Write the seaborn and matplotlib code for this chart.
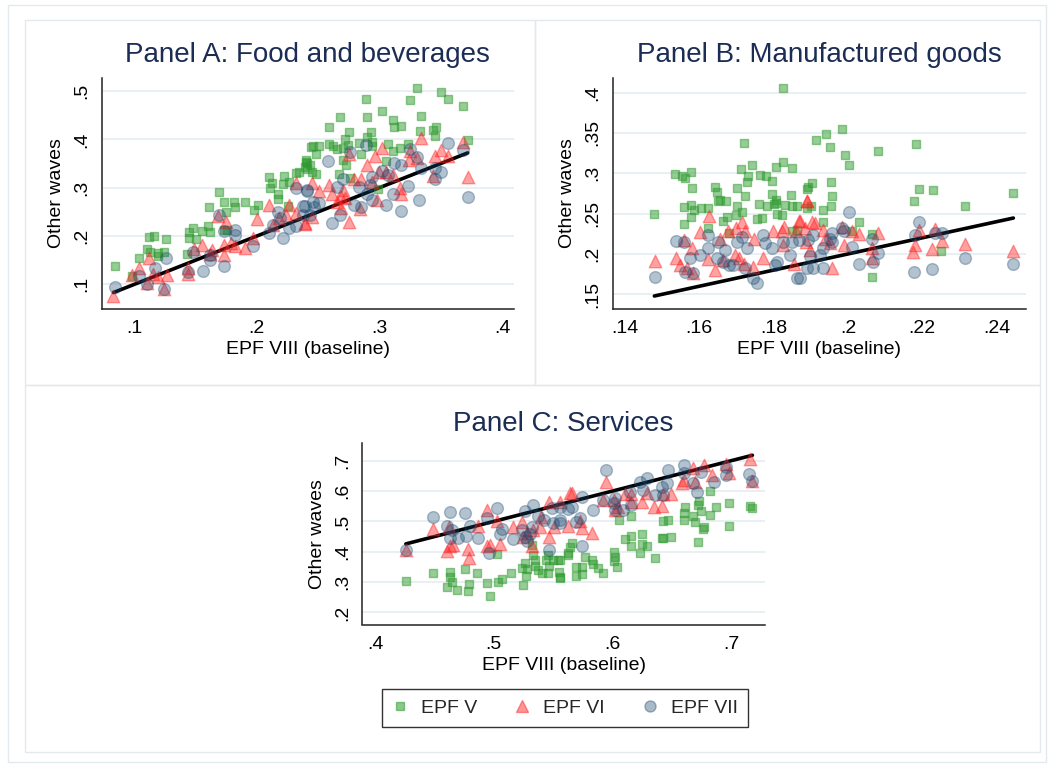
import numpy as np
import pandas as pd
import matplotlib
matplotlib.use('Agg')
import matplotlib.pyplot as plt
import seaborn as sns
from matplotlib.patches import Rectangle
from matplotlib.lines import Line2D

sns.set_theme(style='white')
plt.rcParams['font.family'] = ['Liberation Sans', 'DejaVu Sans']

# ---------------- Panel A: Food and beverages ----------------
A_v5_x = [.084,.098,.104,.110,.112,.116,.113,.119,.119,.124,.126,.145,.145,.148,.150,.143,.155,.160,.162,.161,
          .169,.173,.175,.173,.176,.181,.182,.190,.198,.201,.210,.212,.211,.221,.222,.226,.217,.217,.225,.232,
          .234,.239,.240,.241,.244,
          .331,.350,.356,.368,.325,.289,.302,.268,.290,.311,.312,.318,.334,.259,.275,.272,.293,.290,.294,.294,
          .333,.344,.346,.345,.372,
          .246,.251,.248,.259,.262,.265,.270,.274,.283,.285,.270,.273,.267,.276,.307,.311,.317,.323,.305,.240,
          .243,.241,.248,.245,.299]
A_v5_y = [.139,.117,.154,.174,.197,.201,.167,.165,.158,.167,.193,.208,.195,.217,.194,.163,.210,.221,.209,.261,
          .291,.271,.250,.212,.212,.270,.261,.270,.254,.264,.322,.309,.300,.307,.324,.312,.288,.277,.263,.330,
          .333,.343,.354,.351,.385,
          .507,.497,.484,.470,.481,.484,.459,.447,.446,.441,.426,.428,.448,.426,.415,.401,.415,.405,.395,.386,
          .418,.420,.425,.408,.399,
          .386,.386,.370,.391,.386,.380,.382,.388,.393,.370,.358,.347,.329,.320,.391,.375,.382,.390,.355,.357,
          .347,.339,.328,.333,.297]
A_v6_x = [.083,.098,.104,.112,.110,.115,.119,.124,.127,.144,.144,.149,.155,.162,.163,.168,.173,.175,.173,.179,
          .182,.190,.200,.197,.210,.213,.218,.224,.232,.239,.226,.232,
          .334,.368,.372,.350,.345,.356,.325,.324,.331,.302,.296,.275,.290,.285,.279,.294,.300,.305,.311,.317,
          .318,.344,
          .245,.251,.259,.261,.269,.265,.272,.270,.275,.284,.269,.239,.245,.298]
A_v6_y = [.076,.119,.133,.154,.102,.122,.115,.090,.119,.121,.134,.173,.181,.163,.171,.242,.161,.230,.181,.186,
          .179,.176,.235,.195,.264,.223,.237,.243,.247,.226,.264,.309,
          .402,.394,.323,.377,.366,.366,.375,.357,.361,.383,.365,.370,.348,.319,.319,.312,.333,.333,.326,.299,
          .288,.324,
          .309,.293,.306,.288,.281,.271,.278,.295,.230,.255,.257,.224,.240,.275]
A_v7_x = [.084,.104,.110,.117,.124,.126,.148,.144,.156,.162,.162,.169,.173,.173,.182,.182,.197,.210,.213,.221,
          .219,.226,.232,.238,.241,.232,.217,
          .356,.368,.372,.332,.318,.350,.345,.345,.334,.325,.331,.312,.318,.302,.307,.311,.305,.323,.294,.292,
          .290,.294,.289,.276,.258,
          .270,.265,.283,.279,.285,.268,.261,.241,.239,.246,.247,.251,.243,.238]
A_v7_y = [.095,.117,.100,.133,.090,.154,.167,.126,.128,.150,.161,.243,.138,.211,.212,.202,.179,.207,.223,.195,
          .237,.216,.221,.263,.294,.299,.250,
          .393,.377,.281,.275,.252,.332,.319,.340,.340,.380,.364,.351,.347,.335,.326,.287,.264,.304,.323,.306,
          .288,.275,.388,.373,.356,
          .319,.302,.302,.264,.261,.243,.226,.295,.263,.271,.261,.268,.243,.243]

# ---------------- Panel B: Manufactured goods ----------------
B_v5_x = [.1824,.1721,.1806,.1826,.1850,.1741,.1711,.1730,.1728,.1723,.1762,.1780,.1796,.1795,.1806,.1535,.1553,
          .1578,.1562,.1580,.1479,.1559,.1577,.1586,.1578,.1560,.1605,.1624,.1643,.1647,.1656,.1651,.1672,.1623,
          .1701,.1701,.1714,.1698,.1675,.1663,.1681,
          .1755,.1770,.1782,.1760,.1802,.1806,.1831,.1846,.1849,.1862,.1822,.1808,.1850,.1891,.1891,.1862,
          .1983,.1941,.1913,.1952,.1992,.2003,.2080,.2183,
          .1893,.1902,.1954,.1956,.1900,.1954,.1934,.1933,.2031,.2010,.2064,.2064,.2251,.2191,.2177,.2230,.2314,.2444]
B_v5_y = [.406,.337,.308,.314,.307,.310,.305,.296,.289,.272,.298,.296,.291,.274,.263,.299,.297,.301,.294,.282,
          .250,.258,.261,.254,.246,.237,.257,.257,.283,.277,.267,.265,.266,.232,.282,.260,.252,.248,.246,.241,.226,
          .243,.245,.259,.262,.262,.267,.261,.273,.260,.260,.248,.250,.228,.281,.257,.230,
          .355,.349,.341,.333,.323,.310,.327,.336,
          .283,.288,.289,.272,.259,.259,.255,.239,.240,.229,.225,.171,.204,.281,.266,.279,.259,.276]
B_v6_x = [.1481,.1626,.1602,.1560,.1537,.1548,.1580,.1584,.1566,.1623,.1642,.1656,.1678,.1699,.1714,.1723,.1748,
          .1707,.1720,.1745,.1772,.1798,.1823,.1827,.1826,.1860,.1867,.1889,.1885,.1855,.1696,.1663,
          .1891,.1871,.1911,.1903,.1932,.1938,.1952,.1956,.1898,.1887,.1983,.2010,.2031,.1990,.2082,.2064,.2064,
          .2181,.2176,.2191,.2226,.2234,.2252,.2314,.2445]
B_v6_y = [.191,.247,.227,.217,.195,.186,.207,.176,.182,.194,.180,.219,.229,.232,.240,.228,.218,.195,.188,.184,
          .195,.228,.229,.234,.211,.228,.241,.265,.232,.188,.199,.193,
          .265,.241,.238,.239,.230,.219,.213,.182,.205,.215,.234,.228,.225,.211,.226,.207,.195,.211,.202,.230,
          .206,.231,.216,.212,.204]
B_v7_x = [.1481,.1537,.1560,.1575,.1562,.1584,.1602,.1624,.1647,.1624,.1651,.1669,.1681,.1701,.1714,.1728,.1723,
          .1745,.1755,.1772,.1777,.1795,.1804,.1826,.1849,.1844,.1867,.1862,.1808,.1692,.1665,
          .2003,.2190,.2181,.2234,.2252,.2314,.2445,.2177,.2227,.2066,.2082,.2067,.2030,.2010,
          .1988,.1983,.1956,.1952,.1956,.1934,.1934,.1907,.1889,.1898,.1893,.1907,.1925,.1871]
B_v7_y = [.171,.216,.215,.195,.178,.176,.199,.207,.195,.224,.215,.205,.186,.215,.221,.207,.182,.170,.164,.224,
          .213,.207,.186,.215,.215,.199,.217,.170,.190,.186,.190,
          .252,.240,.224,.226,.226,.195,.188,.178,.181,.219,.201,.190,.187,.209,
          .228,.232,.226,.219,.215,.207,.183,.183,.182,.197,.217,.224,.199,.170]

# ---------------- Panel C: Services ----------------
C_v5_x = [.426,.449,.463,.476,.486,.463,.465,.461,.469,.479,.478,.494,.497,.504,.507,.515,.503,
          .524,.526,.527,.528,.532,.533,.535,.535,.537,.541,.544,.546,.547,.546,.550,.554,.555,.556,.563,.564,.525,
          .556,.556,.563,.566,.569,.569,.574,.574,.577,.583,.584,.588,.592,.601,.601,.604,.602,
          .611,.616,.616,.625,.625,.629,.623,.636,.642,.649,
          .606,.616,.643,.647,.643,
          .661,.660,.660,.668,.670,.672,.673,.675,.676,.677,.672,.682,.687,.682,.698,.698,.716,.718]
C_v5_y = [.304,.331,.332,.342,.331,.318,.301,.285,.274,.293,.271,.296,.255,.299,.309,.331,.392,
          .345,.362,.320,.342,.422,.389,.373,.353,.340,.329,.373,.329,.353,.389,.373,.373,.334,.315,.395,.417,.290,
          .373,.318,.389,.428,.351,.321,.351,.326,.383,.373,.361,.345,.329,.400,.370,.351,.383,
          .441,.452,.419,.458,.425,.419,.395,.379,.444,.448,
          .505,.518,.501,.505,.444,
          .549,.529,.505,.518,.499,.554,.568,.535,.474,.480,.433,.521,.546,.601,.561,.485,.551,.545]
C_v6_x = [.426,.449,.462,.463,.466,.461,.478,.479,.487,.494,.494,.497,.503,.505,.516,.524,.525,.528,.532,.533,
          .539,.540,.547,.547,.551,.556,.564,
          .566,.563,.574,.583,.595,.592,.605,.611,.616,.625,.616,.629,.635,.642,.643,.649,.660,.659,.668,.670,
          .677,.684,.696,.698,.716,.718,.602,.601,.573]
C_v6_y = [.406,.474,.481,.419,.422,.402,.408,.380,.485,.538,.419,.423,.502,.424,.481,.499,.450,.461,.419,.472,
          .481,.516,.565,.448,.483,.565,.593,
          .595,.485,.477,.461,.631,.571,.548,.592,.592,.565,.565,.595,.548,.550,.592,.592,.636,.625,.675,.631,
          .686,.653,.689,.659,.706,.634,.538,.571,.500]
C_v7_x = [.426,.449,.463,.476,.503,.494,.461,.465,.463,.470,.477,.480,.487,.496,.507,.505,.516,.526,.533,.524,
          .526,.528,.531,.532,.537,.542,.547,.549,.550,.556,.556,.563,
          .574,.556,.566,.569,.573,.574,.584,.592,.595,.602,.602,.609,.616,.615,.623,.629,.626,.636,.643,.642,
          .646,.647,.660,.660,.668,.671,.675,.686,.696,.696,.715,.718,.601]
C_v7_y = [.406,.514,.530,.529,.543,.512,.485,.471,.444,.447,.452,.485,.447,.397,.474,.458,.442,.534,.554,.471,
          .449,.436,.458,.480,.518,.504,.406,.543,.494,.494,.505,.540,
          .419,.548,.548,.499,.510,.582,.538,.571,.668,.577,.538,.538,.554,.598,.631,.642,.604,.587,.587,.614,
          .625,.669,.686,.658,.625,.598,.664,.631,.680,.653,.656,.634,.560]

# tick values / labels
A_xticks = [.1, .2, .3, .4];            A_xlabels = ['.1', '.2', '.3', '.4']
A_yticks = [.1, .2, .3, .4, .5];        A_ylabels = ['.1', '.2', '.3', '.4', '.5']
B_xticks = [.14, .16, .18, .2, .22, .24]; B_xlabels = ['.14', '.16', '.18', '.2', '.22', '.24']
B_yticks = [.15, .2, .25, .3, .35, .4]; B_ylabels = ['.15', '.2', '.25', '.3', '.35', '.4']
C_xticks = [.4, .5, .6, .7];            C_xlabels = ['.4', '.5', '.6', '.7']
C_yticks = [.2, .3, .4, .5, .6, .7];    C_ylabels = ['.2', '.3', '.4', '.5', '.6', '.7']

titles = ['Panel A: Food and beverages', 'Panel B: Manufactured goods', 'Panel C: Services']
series_names = ['EPF V', 'EPF VI', 'EPF VII']
xlabel = 'EPF VIII (baseline)'
ylabel = 'Other waves'

GREEN = '#2e9a2e'
RED = '#ff2020'
NAVY = '#1a476f'
TITLE_COLOR = '#1c2d55'
BOX = '#e3eaee'

W, H = 1049, 765
fig = plt.figure(figsize=(W / 100, H / 100), dpi=100)


def px_axes(l, t, r, b):
    return fig.add_axes([l / W, 1 - b / H, (r - l) / W, (b - t) / H])


# panel frames (Stata combine style)
def px_rect(l, t, r, b, lw=1.0):
    fig.add_artist(Rectangle((l / W, 1 - b / H), (r - l) / W, (b - t) / H,
                             transform=fig.transFigure, fill=False,
                             edgecolor=BOX, lw=lw))


px_rect(8, 5, 1046, 762)
px_rect(25, 20, 535, 385)
px_rect(535, 20, 1040, 385)
px_rect(25, 385, 1040, 752)

panels = [
    dict(pos=(101.7, 78, 514, 309), xlim=(.0734, .4098), ylim=(.049, .527),
         data=[(A_v5_x, A_v5_y), (A_v6_x, A_v6_y), (A_v7_x, A_v7_y)],
         xt=(A_xticks, A_xlabels), yt=(A_yticks, A_ylabels), title=titles[0], ty=55),
    dict(pos=(612.7, 78, 1026, 309), xlim=(.1367, .2479), ylim=(.1318, .418),
         data=[(B_v5_x, B_v5_y), (B_v6_x, B_v6_y), (B_v7_x, B_v7_y)],
         xt=(B_xticks, B_xlabels), yt=(B_yticks, B_ylabels), title=titles[1], ty=55),
    dict(pos=(362.3, 442.7, 765, 624.5), xlim=(.3893, .7286), ylim=(.1604, .7594),
         data=[(C_v5_x, C_v5_y), (C_v6_x, C_v6_y), (C_v7_x, C_v7_y)],
         xt=(C_xticks, C_xlabels), yt=(C_yticks, C_ylabels), title=titles[2], ty=424),
]

styles = [dict(marker='s', s=36, color=GREEN, alpha=0.5),
          dict(marker='^', s=80, color=RED, alpha=0.42),
          dict(marker='o', s=72, color=NAVY, alpha=0.33)]

for p in panels:
    l, t, r, b = p['pos']
    ax = px_axes(l, t, r, b)
    # 45-degree reference line over the range of the baseline values
    allx = np.concatenate([np.asarray(d[0]) for d in p['data']])
    lo, hi = allx.min(), allx.max()
    sns.lineplot(x=[lo, hi], y=[lo, hi], color='black', lw=2.6, ax=ax, zorder=2)
    for (xs, ys), st in zip(p['data'], styles):
        sns.scatterplot(x=xs, y=ys, ax=ax, marker=st['marker'], s=st['s'],
                        color=st['color'], edgecolor=st['color'], alpha=st['alpha'],
                        linewidth=1.0, legend=False, zorder=3)
    ax.set_xlim(*p['xlim'])
    ax.set_ylim(*p['ylim'])
    ax.set_xticks(p['xt'][0], p['xt'][1])
    ax.set_yticks(p['yt'][0], p['yt'][1])
    ax.grid(axis='y', color='#e6eff2', lw=1.3)
    ax.grid(axis='x', visible=False)
    ax.set_axisbelow(True)
    for s in ['top', 'right']:
        ax.spines[s].set_visible(False)
    for s in ['left', 'bottom']:
        ax.spines[s].set_color('#222222')
        ax.spines[s].set_linewidth(1.1)
    ax.tick_params(direction='out', length=5, width=1, color='#444444',
                   labelsize=14, labelcolor='black', pad=3)
    plt.setp(ax.get_yticklabels(), rotation=90, va='center')
    ax.set_xlabel(xlabel, fontsize=14, color='black', labelpad=3)
    ax.set_ylabel(ylabel, fontsize=14, color='black', labelpad=6)
    fig.text((l + r) / 2 / W, 1 - p['ty'] / H, p['title'], ha='center', va='center',
             fontsize=20, color=TITLE_COLOR)

handles = [Line2D([], [], ls='none', marker=st['marker'], markersize=ms,
                  markerfacecolor=st['color'], markeredgecolor=st['color'],
                  alpha=st['alpha'] + 0.05, markeredgewidth=1.0)
           for st, ms in zip(styles, [6, 9, 8])]
leg = fig.legend(handles, series_names, loc='center',
                 bbox_to_anchor=(565 / W, 1 - 708 / H), ncol=3, frameon=True,
                 fancybox=False, edgecolor='black', fontsize=14,
                 columnspacing=1.9, handletextpad=0.7, borderpad=0.5,
                 handlelength=0.8)
leg.get_frame().set_linewidth(1.0)

fig.savefig('out.png', dpi=100)
